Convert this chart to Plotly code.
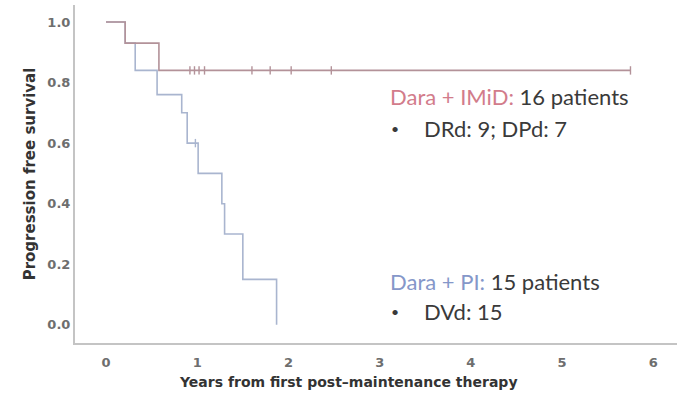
import plotly.graph_objects as go

# Kaplan-Meier progression-free survival, two daratumumab regimens
imid_time = [0, 0.21, 0.58, 5.75]
imid_surv = [1.0, 0.93, 0.84, 0.84]
imid_cens_time = [0.92, 0.97, 1.02, 1.08, 1.60, 1.80, 2.03, 2.47, 5.75]
imid_cens_surv = [0.84, 0.84, 0.84, 0.84, 0.84, 0.84, 0.84, 0.84, 0.84]

pi_time = [0, 0.21, 0.32, 0.56, 0.83, 0.89, 1.01, 1.27, 1.30, 1.50, 1.87]
pi_surv = [1.0, 0.93, 0.84, 0.76, 0.70, 0.60, 0.50, 0.40, 0.30, 0.15, 0.0]
pi_cens_time = [0.98]
pi_cens_surv = [0.60]

x_ticks = [0, 1, 2, 3, 4, 5, 6]
y_ticks = [0.0, 0.2, 0.4, 0.6, 0.8, 1.0]

IMID_COLOR = "#b39299"
PI_COLOR = "#a9b5cf"

fig = go.Figure()
fig.add_trace(go.Scatter(x=pi_time, y=pi_surv, mode="lines", line_shape="hv",
                         line=dict(color=PI_COLOR, width=1.6), showlegend=False))
fig.add_trace(go.Scatter(x=pi_cens_time, y=pi_cens_surv, mode="markers",
                         marker=dict(symbol="line-ns", size=6,
                                     line=dict(color=PI_COLOR, width=1.4)),
                         showlegend=False))
fig.add_trace(go.Scatter(x=imid_time, y=imid_surv, mode="lines", line_shape="hv",
                         line=dict(color=IMID_COLOR, width=1.6), showlegend=False))
fig.add_trace(go.Scatter(x=imid_cens_time, y=imid_cens_surv, mode="markers",
                         marker=dict(symbol="line-ns", size=6,
                                     line=dict(color=IMID_COLOR, width=1.4)),
                         showlegend=False))

TXT = dict(family="Lato, sans-serif", size=22, color="#3a3a3a")
BUL = dict(family="Lato, sans-serif", size=14, color="#3a3a3a")

def note(x, y, text, font=TXT):
    fig.add_annotation(x=x, y=y, xref="paper", yref="paper", text=text,
                       showarrow=False, xanchor="left", yanchor="middle", font=font)

note(0.52, 0.728, "<span style='color:#d27c8b'>Dara + IMiD:</span> 16 patients")
note(0.522, 0.636, "•", BUL)
note(0.577, 0.636, "DRd: 9; DPd: 7")
note(0.52, 0.183, "<span style='color:#8597c9'>Dara + PI:</span> 15 patients")
note(0.522, 0.092, "•", BUL)
note(0.577, 0.092, "DVd: 15")

AX = dict(family="DejaVu Sans, sans-serif", size=13, color="#6e6e6e")
TITLE = dict(family="DejaVu Sans, sans-serif", size=14, color="#333333")

# x-axis title, placed under the curves' region
fig.add_annotation(x=0.4535, y=-0.115, xref="paper", yref="paper",
                   text="<b>Years from first post\u2013maintenance therapy</b>",
                   showarrow=False, xanchor="center", yanchor="middle", font=TITLE)

fig.update_xaxes(range=[-0.34, 6.26], tickvals=x_ticks,
                 ticktext=[f"<b>{v}</b>" for v in x_ticks],
                 ticks="outside", ticklen=6, tickcolor="rgba(0,0,0,0)",
                 showgrid=False, zeroline=False, showline=True, linecolor="#c4c4c4",
                 linewidth=2, tickfont=AX)
fig.update_yaxes(range=[-0.06, 1.056], tickvals=y_ticks,
                 ticktext=[f"<b>{v:.1f}</b>" for v in y_ticks],
                 showgrid=False, zeroline=False, showline=True, linecolor="#c4c4c4",
                 linewidth=2, tickfont=AX,
                 title=dict(text="<b>Progression free survival</b>",
                            font=dict(family="DejaVu Sans, sans-serif", size=15,
                                      color="#333333"), standoff=8))

fig.update_layout(width=677, height=398, margin=dict(l=75, r=0, t=5, b=55),
                  plot_bgcolor="white", paper_bgcolor="white")

fig.write_html("out.html")
